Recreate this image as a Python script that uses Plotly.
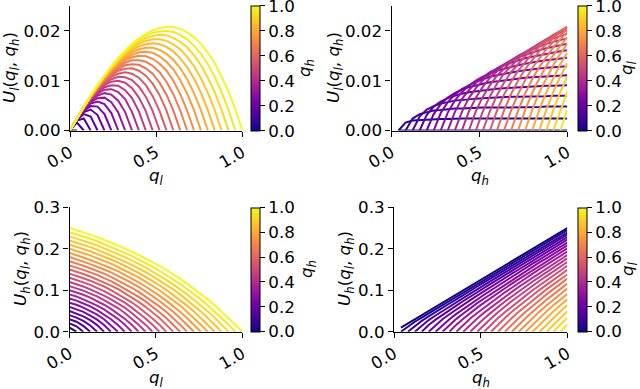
import plotly.graph_objects as go
from plotly.colors import sample_colorscale

# quality grid used for both q_l and q_h
q = [0.00, 0.04, 0.08, 0.12, 0.16, 0.20, 0.24, 0.28, 0.32, 0.36, 0.40, 0.44, 0.48,
     0.52, 0.56, 0.60, 0.64, 0.68, 0.72, 0.76, 0.80, 0.84, 0.88, 0.92, 0.96, 1.00]

# U_l(q_l, q_h): row j is q_h = q[j], entries are q_l = q[0..j]
U_l = [
    [None],
    [0, 0],
    [0, 0.0016, 0],
    [0, 0.0020, 0.0024, 0],
    [0, 0.0021, 0.0033, 0.0028, 0],
    [0, 0.0022, 0.0037, 0.0042, 0.0031, 0],
    [0, 0.0023, 0.0040, 0.0049, 0.0048, 0.0033, 0],
    [0, 0.0023, 0.0041, 0.0054, 0.0058, 0.0053, 0.0035, 0],
    [0, 0.0023, 0.0043, 0.0057, 0.0065, 0.0066, 0.0057, 0.0036, 0],
    [0, 0.0024, 0.0044, 0.0060, 0.0070, 0.0075, 0.0072, 0.0060, 0.0037, 0],
    [0, 0.0024, 0.0044, 0.0061, 0.0074, 0.0082, 0.0083, 0.0077, 0.0063, 0.0037, 0],
    [0, 0.0024, 0.0045, 0.0063, 0.0077, 0.0087, 0.0091, 0.0090, 0.0081, 0.0065, 0.0038, 0],
    [0, 0.0024, 0.0045, 0.0064, 0.0079, 0.0091, 0.0098, 0.0100, 0.0096, 0.0085, 0.0066, 0.0039, 0],
    [0, 0.0024, 0.0046, 0.0065, 0.0081, 0.0094, 0.0103, 0.0108, 0.0107, 0.0101, 0.0088, 0.0068,
     0.0039, 0],
    [0, 0.0024, 0.0046, 0.0066, 0.0083, 0.0097, 0.0108, 0.0114, 0.0117, 0.0114, 0.0106, 0.0091,
     0.0069, 0.0039, 0],
    [0, 0.0024, 0.0046, 0.0066, 0.0084, 0.0099, 0.0111, 0.0120, 0.0124, 0.0125, 0.0120, 0.0110,
     0.0094, 0.0071, 0.0040, 0],
    [0, 0.0024, 0.0047, 0.0067, 0.0085, 0.0101, 0.0114, 0.0124, 0.0131, 0.0133, 0.0132, 0.0125,
     0.0114, 0.0096, 0.0072, 0.0040, 0],
    [0, 0.0024, 0.0047, 0.0068, 0.0086, 0.0103, 0.0117, 0.0128, 0.0136, 0.0141, 0.0141, 0.0138,
     0.0130, 0.0117, 0.0098, 0.0073, 0.0040, 0],
    [0, 0.0024, 0.0047, 0.0068, 0.0087, 0.0104, 0.0119, 0.0131, 0.0141, 0.0147, 0.0150, 0.0149,
     0.0144, 0.0134, 0.0120, 0.0100, 0.0073, 0.0040, 0],
    [0, 0.0024, 0.0047, 0.0068, 0.0088, 0.0106, 0.0121, 0.0134, 0.0145, 0.0152, 0.0157, 0.0158,
     0.0156, 0.0149, 0.0138, 0.0123, 0.0101, 0.0074, 0.0041, 0],
    [0, 0.0024, 0.0047, 0.0069, 0.0089, 0.0107, 0.0123, 0.0137, 0.0148, 0.0157, 0.0163, 0.0166,
     0.0166, 0.0162, 0.0154, 0.0142, 0.0125, 0.0103, 0.0075, 0.0041, 0],
    [0, 0.0024, 0.0047, 0.0069, 0.0089, 0.0108, 0.0124, 0.0139, 0.0151, 0.0161, 0.0169, 0.0173,
     0.0175, 0.0173, 0.0168, 0.0159, 0.0145, 0.0127, 0.0104, 0.0076, 0.0041, 0],
    [0, 0.0024, 0.0048, 0.0069, 0.0090, 0.0109, 0.0126, 0.0141, 0.0154, 0.0165, 0.0174, 0.0180,
     0.0183, 0.0183, 0.0180, 0.0173, 0.0163, 0.0148, 0.0129, 0.0105, 0.0076, 0.0041, 0],
    [0, 0.0024, 0.0048, 0.0070, 0.0090, 0.0109, 0.0127, 0.0143, 0.0156, 0.0168, 0.0178, 0.0185,
     0.0190, 0.0192, 0.0191, 0.0186, 0.0178, 0.0167, 0.0151, 0.0131, 0.0106, 0.0077, 0.0041, 0],
    [0, 0.0024, 0.0048, 0.0070, 0.0091, 0.0110, 0.0128, 0.0144, 0.0159, 0.0171, 0.0182, 0.0190,
     0.0196, 0.0199, 0.0200, 0.0198, 0.0192, 0.0183, 0.0170, 0.0154, 0.0133, 0.0108, 0.0077,
     0.0041, 0],
    [0, 0.0024, 0.0048, 0.0070, 0.0091, 0.0111, 0.0129, 0.0146, 0.0161, 0.0174, 0.0185, 0.0194,
     0.0201, 0.0206, 0.0208, 0.0208, 0.0204, 0.0197, 0.0187, 0.0174, 0.0156, 0.0135, 0.0108,
     0.0078, 0.0042, 0],
]

# U_h(q_l, q_h): same layout
U_h = [
    [None],
    [0.010, 0],
    [0.020, 0.013, 0],
    [0.030, 0.024, 0.014, 0],
    [0.040, 0.034, 0.026, 0.015, 0],
    [0.050, 0.044, 0.037, 0.028, 0.016, 0],
    [0.060, 0.054, 0.048, 0.039, 0.029, 0.016, 0],
    [0.070, 0.065, 0.058, 0.050, 0.041, 0.030, 0.016, 0],
    [0.080, 0.075, 0.068, 0.061, 0.052, 0.042, 0.030, 0.016, 0],
    [0.090, 0.085, 0.078, 0.071, 0.063, 0.054, 0.043, 0.031, 0.017, 0],
    [0.100, 0.095, 0.089, 0.082, 0.074, 0.065, 0.055, 0.044, 0.031, 0.017, 0],
    [0.110, 0.105, 0.099, 0.092, 0.085, 0.076, 0.067, 0.057, 0.045, 0.032, 0.017, 0],
    [0.120, 0.115, 0.109, 0.102, 0.095, 0.087, 0.078, 0.069, 0.058, 0.045, 0.032, 0.017, 0],
    [0.130, 0.125, 0.119, 0.113, 0.106, 0.098, 0.089, 0.080, 0.070, 0.058, 0.046, 0.032, 0.017, 0],
    [0.140, 0.135, 0.129, 0.123, 0.116, 0.109, 0.100, 0.091, 0.082, 0.071, 0.059, 0.046, 0.032,
     0.017, 0],
    [0.150, 0.145, 0.139, 0.133, 0.126, 0.119, 0.111, 0.103, 0.093, 0.083, 0.072, 0.060, 0.047,
     0.033, 0.017, 0],
    [0.160, 0.155, 0.149, 0.143, 0.137, 0.129, 0.122, 0.113, 0.104, 0.095, 0.084, 0.073, 0.061,
     0.047, 0.033, 0.017, 0],
    [0.170, 0.165, 0.159, 0.153, 0.147, 0.140, 0.132, 0.124, 0.116, 0.106, 0.096, 0.085, 0.074,
     0.061, 0.048, 0.033, 0.017, 0],
    [0.180, 0.175, 0.169, 0.163, 0.157, 0.150, 0.143, 0.135, 0.127, 0.118, 0.108, 0.098, 0.086,
     0.074, 0.062, 0.048, 0.033, 0.017, 0],
    [0.190, 0.185, 0.179, 0.173, 0.167, 0.160, 0.153, 0.146, 0.137, 0.129, 0.119, 0.109, 0.099,
     0.087, 0.075, 0.062, 0.048, 0.033, 0.017, 0],
    [0.200, 0.195, 0.189, 0.184, 0.177, 0.171, 0.164, 0.156, 0.148, 0.140, 0.131, 0.121, 0.111,
     0.100, 0.088, 0.076, 0.063, 0.048, 0.033, 0.017, 0],
    [0.210, 0.205, 0.199, 0.194, 0.187, 0.181, 0.174, 0.167, 0.159, 0.151, 0.142, 0.132, 0.123,
     0.112, 0.101, 0.089, 0.076, 0.063, 0.049, 0.033, 0.017, 0],
    [0.220, 0.215, 0.209, 0.204, 0.198, 0.191, 0.184, 0.177, 0.169, 0.161, 0.153, 0.144, 0.134,
     0.124, 0.113, 0.102, 0.090, 0.077, 0.063, 0.049, 0.033, 0.017, 0],
    [0.230, 0.225, 0.219, 0.214, 0.208, 0.201, 0.195, 0.187, 0.180, 0.172, 0.164, 0.155, 0.145,
     0.136, 0.125, 0.114, 0.103, 0.090, 0.077, 0.064, 0.049, 0.034, 0.017, 0],
    [0.240, 0.235, 0.229, 0.224, 0.218, 0.211, 0.205, 0.198, 0.190, 0.183, 0.174, 0.166, 0.157,
     0.147, 0.137, 0.126, 0.115, 0.103, 0.091, 0.078, 0.064, 0.049, 0.034, 0.017, 0],
    [0.250, 0.245, 0.239, 0.234, 0.228, 0.222, 0.215, 0.208, 0.201, 0.193, 0.185, 0.177, 0.168,
     0.159, 0.149, 0.138, 0.128, 0.116, 0.104, 0.091, 0.078, 0.064, 0.049, 0.034, 0.017, 0],
]

cbar_ticks = [0.0, 0.2, 0.4, 0.6, 0.8, 1.0]
x_ticks = [0.0, 0.5, 1.0]

W, H = 640, 389
FONT = "DejaVu Sans"
fs = 16.7
colors = sample_colorscale("Plasma", q)

lbl_Ul = "<i>U</i><sub><i>l</i></sub>(<i>q</i><sub><i>l</i></sub>, <i>q</i><sub><i>h</i></sub>)"
lbl_Uh = "<i>U</i><sub><i>h</i></sub>(<i>q</i><sub><i>l</i></sub>, <i>q</i><sub><i>h</i></sub>)"
lbl_ql = "<i>q</i><sub><i>l</i></sub>"
lbl_qh = "<i>q</i><sub><i>h</i></sub>"


def px_x(x):
    return x / W


def px_y(y):
    return 1 - y / H


fig = go.Figure()


def add_family(U, n, by_high):
    xa, ya = "x%d" % n, "y%d" % n
    for k in range(len(q)):
        if by_high:  # one curve per q_h, q_l runs up to q_h
            xs = q[:k + 1]
            ys = U[k]
        else:  # one curve per q_l, q_h runs from q_l to 1
            xs = q[k:]
            ys = [U[j][k] for j in range(k, len(q))]
        fig.add_trace(go.Scatter(x=xs, y=ys, mode="lines", xaxis=xa, yaxis=ya,
                                 line=dict(color=colors[k], width=2),
                                 showlegend=False, hoverinfo="skip"))


def add_cbar(n, x_left, y_top, y_bot):
    fig.add_trace(go.Scatter(
        x=[None], y=[None], mode="markers", xaxis="x%d" % n, yaxis="y%d" % n,
        showlegend=False, hoverinfo="skip",
        marker=dict(color=[0], colorscale="Plasma", cmin=0, cmax=1, showscale=True,
                    colorbar=dict(x=px_x(x_left), xanchor="left", xpad=0,
                                  y=px_y((y_top + y_bot) / 2), yanchor="middle", ypad=0,
                                  len=(y_bot - y_top) / H, lenmode="fraction",
                                  thickness=8.5, outlinewidth=1, outlinecolor="black",
                                  tickvals=cbar_ticks, tickformat=".1f",
                                  ticks="outside", ticklen=5, tickwidth=1.1,
                                  tickcolor="black", ticklabeloverflow="allow",
                                  tickfont=dict(family=FONT, size=fs, color="black")))))


add_family(U_l, 1, True)
add_family(U_l, 2, False)
add_family(U_h, 3, True)
add_family(U_h, 4, False)

top, bot1 = 6, 130.5
top2, bot2 = 207.3, 331.7
add_cbar(1, 251, top, bot1)
add_cbar(2, 578, top, bot1)
add_cbar(3, 251, top2, bot2)
add_cbar(4, 578, top2, bot2)

axis_style = dict(showline=True, linecolor="black", linewidth=1.1, ticks="outside",
                  ticklen=5, tickwidth=1.1, tickcolor="black", showgrid=False,
                  zeroline=False, tickfont=dict(family=FONT, size=fs, color="black"))

panels = {
    1: ((70, 242.3), (top, bot1), [0, 0.025], [0, 0.01, 0.02], ".2f"),
    2: ((391.5, 567.3), (top, bot1), [0, 0.025], [0, 0.01, 0.02], ".2f"),
    3: ((69.5, 242.3), (top2, bot2), [0, 0.3], [0, 0.1, 0.2, 0.3], ".1f"),
    4: ((394, 567.3), (top2, bot2), [0, 0.3], [0, 0.1, 0.2, 0.3], ".1f"),
}
layout_axes = {}
for n, (xs, ys, yr, yt, yfmt) in panels.items():
    sfx = "" if n == 1 else str(n)
    layout_axes["xaxis" + sfx] = dict(axis_style, domain=[px_x(xs[0]), px_x(xs[1])],
                                      range=[0, 1], tickvals=x_ticks, tickformat=".1f",
                                      tickangle=-30, anchor="y" + sfx, automargin=False)
    layout_axes["yaxis" + sfx] = dict(axis_style, domain=[px_y(ys[1]), px_y(ys[0])],
                                      range=yr, tickvals=yt, tickformat=yfmt,
                                      anchor="x" + sfx, automargin=False)

annots = [
    (lbl_Ul, 11, 68, -90), (lbl_Ul, 335, 68, -90),
    (lbl_Uh, 21, 269, -90), (lbl_Uh, 345, 269, -90),
    (lbl_ql, 156, 176, 0), (lbl_qh, 480, 176, 0),
    (lbl_ql, 156, 378, 0), (lbl_qh, 481, 378, 0),
    (lbl_qh, 306, 68, -90), (lbl_ql, 628, 68, -90),
    (lbl_qh, 307, 269, -90), (lbl_ql, 628, 269, -90),
]
annotations = [dict(text=t, x=px_x(x), y=px_y(y), xref="paper", yref="paper",
                    xanchor="center", yanchor="middle", textangle=a, showarrow=False,
                    font=dict(family=FONT, size=fs, color="black"))
               for t, x, y, a in annots]

fig.update_layout(width=W, height=H, autosize=False,
                  margin=dict(l=0, r=0, t=0, b=0, autoexpand=False),
                  plot_bgcolor="white", paper_bgcolor="white", showlegend=False,
                  font=dict(family=FONT, size=fs, color="black"),
                  annotations=annotations, **layout_axes)

# page body has a default 8px margin; drop it so the figure sits at the window corner
fig.write_html("out.html", config={"displayModeBar": False},
               post_script="document.body.style.margin='0';")
